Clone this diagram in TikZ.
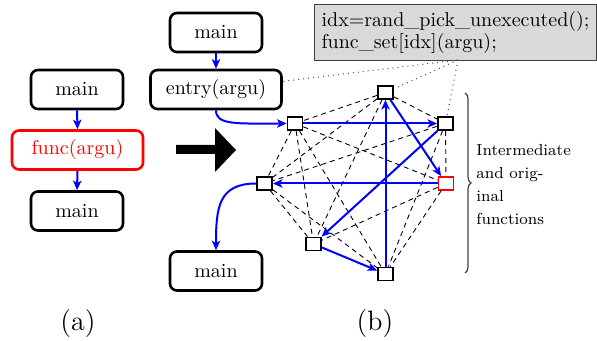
\documentclass[tikz,border=0pt]{standalone}
\usetikzlibrary{arrows.meta,decorations.pathreplacing,calc}
\begin{document}
\begin{tikzpicture}[x=0.5pt,y=0.5pt,
  fbox/.style={draw, rounded corners=3.5pt, line width=1.3pt, minimum width=46pt, minimum height=19.5pt, inner sep=0pt, font=\fontsize{10}{12}\selectfont},
  widebox/.style={fbox, minimum width=65.5pt},
  fn/.style={draw, line width=0.9pt, minimum width=7.5pt, minimum height=6.5pt, inner sep=0pt, fill=white},
  flow/.style={draw=blue, line width=1.0pt, -{Stealth[length=4.8pt,width=4.2pt,inset=1.3pt]}},
  cand/.style={dash pattern=on 2.5pt off 2pt, line width=0.45pt},
  link/.style={dotted, line width=0.5pt, black!70},
  codebox/.style={draw=black!75, fill=black!15, line width=0.6pt, align=left, text width=134pt, inner xsep=3.5pt, minimum height=28pt, font=\fontsize{10}{11}\selectfont}
]
\useasboundingbox (0,0) rectangle (597,-341);

% (a)
\node[fbox] (a1) at (77,-89.5) {main};
\node[widebox, draw=red, text=red] (a2) at (77.5,-150) {func(argu)};
\node[fbox] (a3) at (77,-211) {main};
\draw[flow] (a1.south) -- (a2.north);
\draw[flow] (a2.south) -- (a3.north);

% big arrow
\fill (176,-145) -- (215,-145) -- (215,-128) -- (236,-150) -- (215,-172) -- (215,-154) -- (176,-154) -- cycle;

% (b)
\node[fbox] (b1) at (216,-32.5) {main};
\node[widebox] (b2) at (216,-89.5) {entry(argu)};
\node[fbox] (b3) at (216,-271) {main};
\draw[flow] (b1.south) -- (b2.north);

\node[codebox, anchor=north west] (code) at (314,-4) {idx=rand\_pick\_unexecuted();\\func\_set[idx](argu);};

\node[fn] (T) at (385.5,-92.5) {};
\node[fn] (UR) at (445.5,-123.5) {};
\node[fn] (UL) at (295,-123.5) {};
\node[fn] (ML) at (264.5,-183.5) {};
\node[fn, draw=red] (R) at (446,-183.5) {};
\node[fn] (LL) at (313.5,-244) {};
\node[fn] (B) at (385.5,-274) {};

\foreach \p/\q in {T/UR,T/UL,T/ML,T/LL,UR/ML,UR/R,UR/B,UL/ML,UL/R,UL/LL,UL/B,ML/LL,ML/B,R/LL,R/B}
  \draw[cand] (\p) -- (\q);

\coordinate (cp) at (458,-60);
\draw[link] (cp) -- (b2);
\draw[link] (cp) -- (T);
\draw[link] (cp) -- (UR);

\draw[flow] (b2.south) .. controls +(0,-15) and +(-50,0) .. (UL.west);
\draw[flow] (UL.east) -- (UR.west);
\draw[flow] (UR) -- (LL);
\draw[flow] (LL) -- (B);
\draw[flow] (B.north) -- (T.south);
\draw[flow] (T) -- (R);
\draw[flow] (R.west) -- (ML.east);
\draw[flow] (ML.west) .. controls +(-38,0) and +(0,42) .. (b3.north);

\draw[decorate, decoration={brace, amplitude=3pt}, black!75, line width=0.6pt] (465,-93) -- (465,-273);
\node[anchor=north west, inner sep=0pt, align=left, font=\fontsize{8}{11.5}\selectfont] (lbl) at (476,-144) {Intermediate\\and orig-\\inal\\functions};

\node[font=\fontsize{14}{16}\selectfont, anchor=base] (la) at (78,-330) {(a)};
\node[font=\fontsize{14}{16}\selectfont, anchor=base] (lb) at (375,-330) {(b)};
\end{tikzpicture}
\end{document}
